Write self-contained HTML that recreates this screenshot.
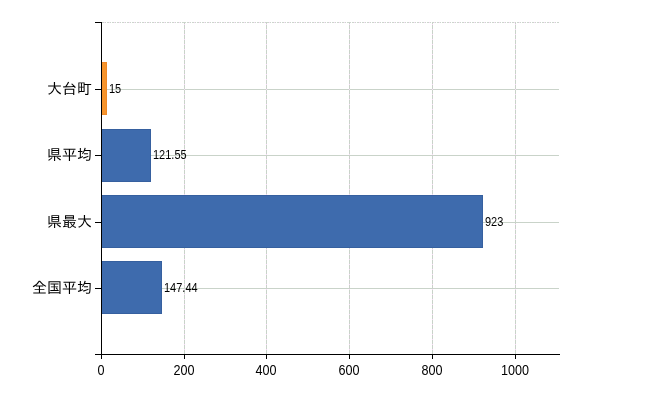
<!DOCTYPE html>
<html lang="ja">
<head>
<meta charset="utf-8">
<title>Chart</title>
<style>
html,body{margin:0;padding:0;background:#fff;}
body{width:650px;height:400px;position:relative;overflow:hidden;font-family:"Liberation Sans","IPAGothic",sans-serif;color:#000;}
.abs{position:absolute;}
.hg{position:absolute;left:102px;width:457px;height:1px;background:#c9d3c9;}
.vg{position:absolute;top:22px;height:332px;width:1px;background:repeating-linear-gradient(to bottom,#c9d3c9 0,#c9d3c9 4px,#f6d4f6 4px,#f6d4f6 5px);background-size:1px 5px;background-position:0 -2px;}
.bar{position:absolute;left:102px;height:53px;background:#3e6bad;box-sizing:border-box;border:1px solid #36609f;border-left:none;}
.tk{position:absolute;background:#000;}
.cat{position:absolute;right:558px;font-size:15px;line-height:16px;height:16px;white-space:nowrap;text-align:right;font-family:"Liberation Sans","IPAGothic",sans-serif;}
.xl{position:absolute;top:362px;width:60px;margin-left:-31px;text-align:center;font-size:14px;line-height:16px;transform:scaleX(0.9);transform-origin:50% 50%;}
.dl{position:absolute;font-size:12.5px;line-height:12px;white-space:nowrap;transform:scaleX(0.88);transform-origin:0 50%;}
</style>
</head>
<body>
<!-- gridlines -->
<div class="hg" style="top:22px;background:repeating-linear-gradient(to right,#cdd6cd 0,#cdd6cd 2px,#f3dcf3 2px,#f3dcf3 3px,#cdd6cd 3px,#cdd6cd 4px,#fff 4px,#fff 5px)"></div>
<div class="hg" style="top:89px"></div>
<div class="hg" style="top:155px"></div>
<div class="hg" style="top:222px"></div>
<div class="hg" style="top:288px"></div>
<div class="vg" style="left:184px"></div>
<div class="vg" style="left:266px"></div>
<div class="vg" style="left:349px"></div>
<div class="vg" style="left:432px"></div>
<div class="vg" style="left:515px"></div>
<!-- bars -->
<div class="bar" style="top:62px;width:5px;background:#f6942c;border-color:#f08a28"></div>
<div class="bar" style="top:129px;width:49px"></div>
<div class="bar" style="top:195px;width:381px"></div>
<div class="bar" style="top:261px;width:60px"></div>
<!-- axes -->
<div class="tk" style="left:101px;top:22px;width:1px;height:333px"></div>
<div class="tk" style="left:95px;top:354px;width:465px;height:1px"></div>
<!-- y ticks -->
<div class="tk" style="left:95px;top:22px;width:6px;height:1px"></div>
<div class="tk" style="left:95px;top:89px;width:6px;height:1px"></div>
<div class="tk" style="left:95px;top:155px;width:6px;height:1px"></div>
<div class="tk" style="left:95px;top:222px;width:6px;height:1px"></div>
<div class="tk" style="left:95px;top:288px;width:6px;height:1px"></div>
<!-- x ticks -->
<div class="tk" style="left:101px;top:354px;width:1px;height:5px"></div>
<div class="tk" style="left:184px;top:354px;width:1px;height:5px"></div>
<div class="tk" style="left:266px;top:354px;width:1px;height:5px"></div>
<div class="tk" style="left:349px;top:354px;width:1px;height:5px"></div>
<div class="tk" style="left:432px;top:354px;width:1px;height:5px"></div>
<div class="tk" style="left:515px;top:354px;width:1px;height:5px"></div>
<!-- category labels -->
<div class="cat" style="top:81px">大台町</div>
<div class="cat" style="top:147px">県平均</div>
<div class="cat" style="top:214px">県最大</div>
<div class="cat" style="top:280px">全国平均</div>
<!-- x labels -->
<div class="xl" style="left:101.5px">0</div>
<div class="xl" style="left:184.5px">200</div>
<div class="xl" style="left:266.5px">400</div>
<div class="xl" style="left:349.5px">600</div>
<div class="xl" style="left:432.5px">800</div>
<div class="xl" style="left:515.5px">1000</div>
<!-- data labels -->
<div class="dl" style="left:109px;top:83px">15</div>
<div class="dl" style="left:153px;top:149px">121.55</div>
<div class="dl" style="left:485px;top:216px">923</div>
<div class="dl" style="left:164px;top:282px">147.44</div>
</body>
</html>
